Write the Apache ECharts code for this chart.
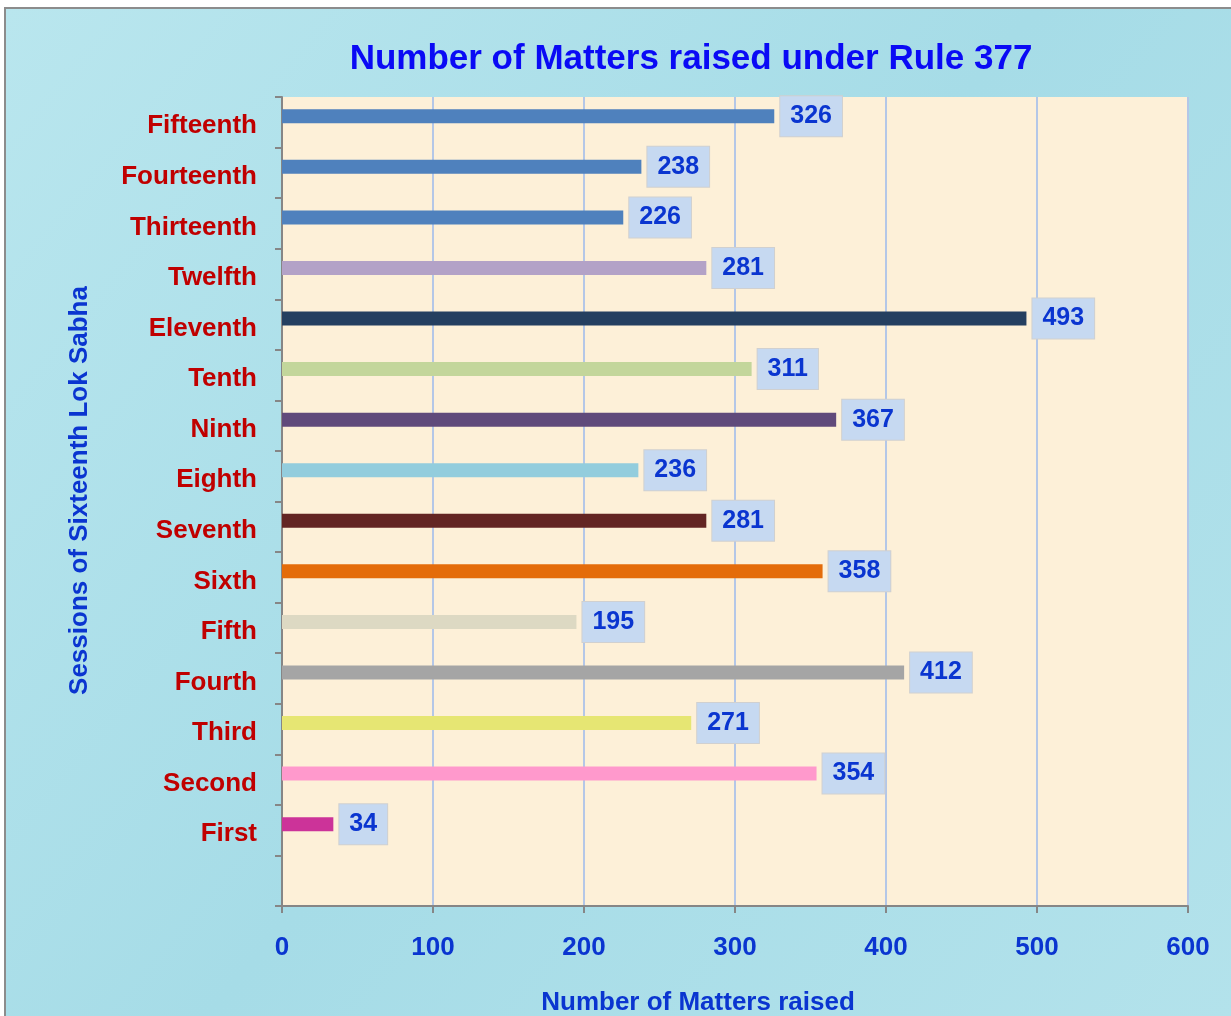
<!DOCTYPE html>
<html>
<head>
<meta charset="utf-8">
<script src="https://cdn.jsdelivr.net/npm/echarts@6/dist/echarts.min.js"></script>
<style>
html,body{margin:0;padding:0;background:#fff;}
#main{width:1231px;height:1016px;}
</style>
</head>
<body>
<div id="main"></div>
<script>
// sessions, bottom to top (first slot left empty as in the original)
var sessions = ['', 'First', 'Second', 'Third', 'Fourth', 'Fifth', 'Sixth', 'Seventh', 'Eighth',
  'Ninth', 'Tenth', 'Eleventh', 'Twelfth', 'Thirteenth', 'Fourteenth', 'Fifteenth'];
var matters = [null, 34, 354, 271, 412, 195, 358, 281, 236, 367, 311, 493, 281, 226, 238, 326];
var barColors = ['#ffffff', '#cc3399', '#ff99cc', '#e6e673', '#a5a5a5', '#ddd9c3', '#e46c0a', '#632523',
  '#93cddd', '#604a7b', '#c3d69b', '#243f60', '#b3a2c7', '#4f81bd', '#4f81bd', '#4f81bd'];
var xTicks = [0, 100, 200, 300, 400, 500, 600];

var chart = echarts.init(document.getElementById('main'));
var blue = '#0a35d0';
var font = 'Liberation Sans, Arial, sans-serif';

var option = {
  backgroundColor: '#ffffff',
  graphic: [
    {
      type: 'rect',
      shape: { x: 5, y: 8, width: 1230, height: 1012 },
      style: {
        fill: new echarts.graphic.LinearGradient(0, 0, 1, 1, [
          { offset: 0, color: '#b9e6ee' },
          { offset: 0.5, color: '#a6dce7' },
          { offset: 1, color: '#b3e2eb' }
        ]),
        stroke: '#8c8c8c',
        lineWidth: 2
      },
      z: -10
    }
  ],
  title: {
    text: 'Number of Matters raised under Rule 377',
    left: 686,
    textAlign: 'center',
    top: 37,
    textStyle: { color: '#0a0af5', fontSize: 35, fontWeight: 'bold', fontFamily: font }
  },
  grid: {
    left: 282, right: 43, top: 97, bottom: 110,
    outerBoundsMode: 'none',
    show: true,
    backgroundColor: '#fdf0d8',
    borderWidth: 0
  },
  xAxis: {
    type: 'value',
    min: xTicks[0],
    max: xTicks[xTicks.length - 1],
    interval: 100,
    name: 'Number of Matters raised',
    nameLocation: 'middle',
    nameGap: 84,
    nameTextStyle: { color: blue, fontSize: 26, fontWeight: 'bold', fontFamily: font, padding: [0, 74, 0, 0] },
    axisLine: { show: true, lineStyle: { color: '#868686', width: 2 } },
    axisTick: { show: true, length: 7, lineStyle: { color: '#868686', width: 2 } },
    axisLabel: { color: blue, fontSize: 26, fontWeight: 'bold', fontFamily: font, margin: 29 },
    splitLine: { show: true, lineStyle: { color: '#b4c7e7', width: 2 } }
  },
  yAxis: {
    type: 'category',
    data: sessions,
    name: 'Sessions of Sixteenth Lok Sabha',
    nameLocation: 'middle',
    nameGap: 189,
    nameRotate: 90,
    nameTextStyle: { color: blue, fontSize: 26, fontWeight: 'bold', fontFamily: font, padding: [0, 0, 0, 22] },
    axisLine: { show: true, lineStyle: { color: '#868686', width: 2 } },
    axisTick: { show: true, length: 7, lineStyle: { color: '#868686', width: 2 } },
    axisLabel: {
      margin: 25,
      formatter: '{a|{value}}',
      rich: {
        a: { color: '#c00000', fontSize: 26, fontWeight: 'bold', fontFamily: font, padding: [8, 0, 0, 0] }
      }
    },
    splitLine: { show: false }
  },
  series: [
    {
      type: 'bar',
      data: matters.map(function (v, i) {
        return { value: v, itemStyle: { color: barColors[i] } };
      }),
      barWidth: 14,
      barGap: '-14%',
      label: {
        show: true,
        position: 'right',
        distance: 6,
        color: blue,
        fontSize: 25,
        fontWeight: 'bold',
        fontFamily: font,
        backgroundColor: '#c6d9f1',
        borderColor: '#d0d0d0',
        borderWidth: 1,
        padding: [8, 10, 7, 10]
      }
    },
    {
      type: 'bar',
      data: sessions.map(function () { return null; }),
      barWidth: 14,
      silent: true
    }
  ]
};

chart.setOption(option);
</script>
</body>
</html>
